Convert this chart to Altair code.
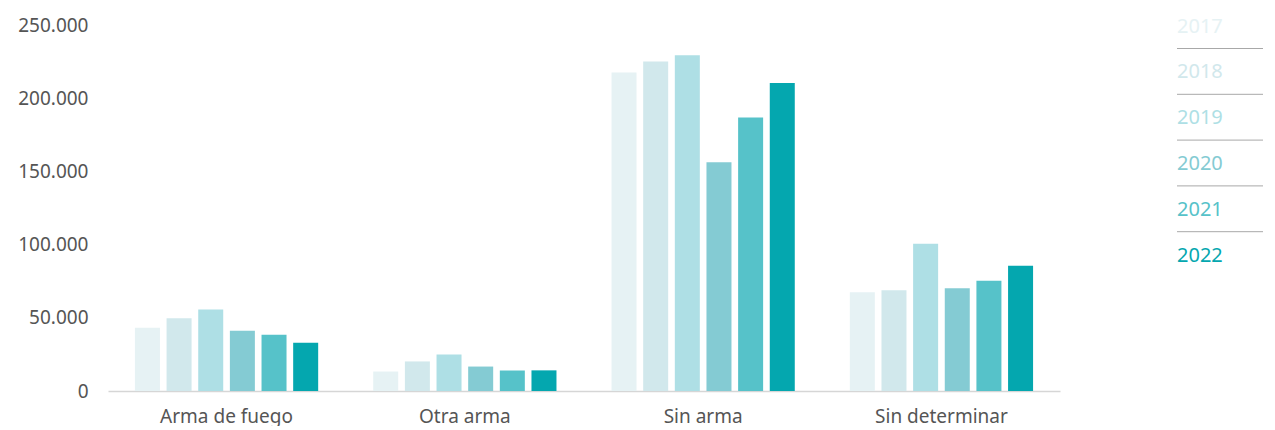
import altair as alt
import pandas as pd

categories = ["Arma de fuego", "Otra arma", "Sin arma", "Sin determinar"]
years = ["2017", "2018", "2019", "2020", "2021", "2022"]
v2017 = [43200, 13300, 217500, 67500]
v2018 = [49700, 20200, 225000, 68900]
v2019 = [55700, 24900, 229400, 100500]
v2020 = [41100, 16700, 156300, 70200]
v2021 = [38400, 14000, 186800, 75300]
v2022 = [32900, 14100, 210300, 85500]
colors = ["#e6f2f4", "#d1e8ec", "#aedfe5", "#84cbd3", "#56c2c9", "#04a7af"]
y_ticks = [0, 50000, 100000, 150000, 200000, 250000]

series = [v2017, v2018, v2019, v2020, v2021, v2022]
rows = []
for yr, vals in zip(years, series):
    for c, v in zip(categories, vals):
        rows.append({"cat": c, "year": yr, "value": v})
df = pd.DataFrame(rows)

FONT = "Noto Sans"
color_scale = alt.Scale(domain=years, range=colors)

bars = alt.Chart(df).mark_bar().encode(
    x=alt.X("cat:N", sort=categories,
            scale=alt.Scale(paddingInner=0.231, paddingOuter=0.113),
            axis=alt.Axis(title=None, labelAngle=0, ticks=False,
                          domainColor="#d6d6d6", domainWidth=1.5,
                          labelFontSize=19, labelColor="#555555",
                          labelFont=FONT, labelPadding=16)),
    xOffset=alt.XOffset("year:N", sort=years,
                        scale=alt.Scale(paddingInner=0.21, paddingOuter=0)),
    y=alt.Y("value:Q", scale=alt.Scale(domain=[0, 250000]),
            axis=alt.Axis(title=None, values=y_ticks, grid=False, domain=False,
                          ticks=False, labelPadding=20, labelFontSize=19,
                          labelColor="#555555", labelFont=FONT,
                          labelExpr="replace(format(datum.value, ','), ',', '.')")),
    color=alt.Color("year:N", sort=years, scale=color_scale, legend=None),
).properties(width=952, height=366)

leg_df = pd.DataFrame({"year": years})
ysc = alt.Scale(type="point", domain=years, range=[1.5, 230.5], padding=0)

leg_text = alt.Chart(leg_df).mark_text(
    align="left", baseline="middle", fontSize=20, font=FONT
).encode(
    x=alt.value(0),
    y=alt.Y("year:O", scale=ysc, axis=None),
    text="year:N",
    color=alt.Color("year:N", scale=color_scale, legend=None),
)

leg_rules = alt.Chart(leg_df[leg_df["year"] != "2022"]).mark_rule(
    color="#a8a8a8", strokeWidth=1, yOffset=22
).encode(
    x=alt.value(0), x2=alt.value(86),
    y=alt.Y("year:O", scale=ysc, axis=None),
)

legend = alt.layer(leg_rules, leg_text).properties(width=86, height=366)

chart = alt.hconcat(bars, legend, spacing=116).configure_view(stroke=None).properties(
    padding={"left": 9, "top": 8, "right": 0, "bottom": 0}
)

chart.save("out.html", embed_options={"renderer": "svg", "actions": False})
